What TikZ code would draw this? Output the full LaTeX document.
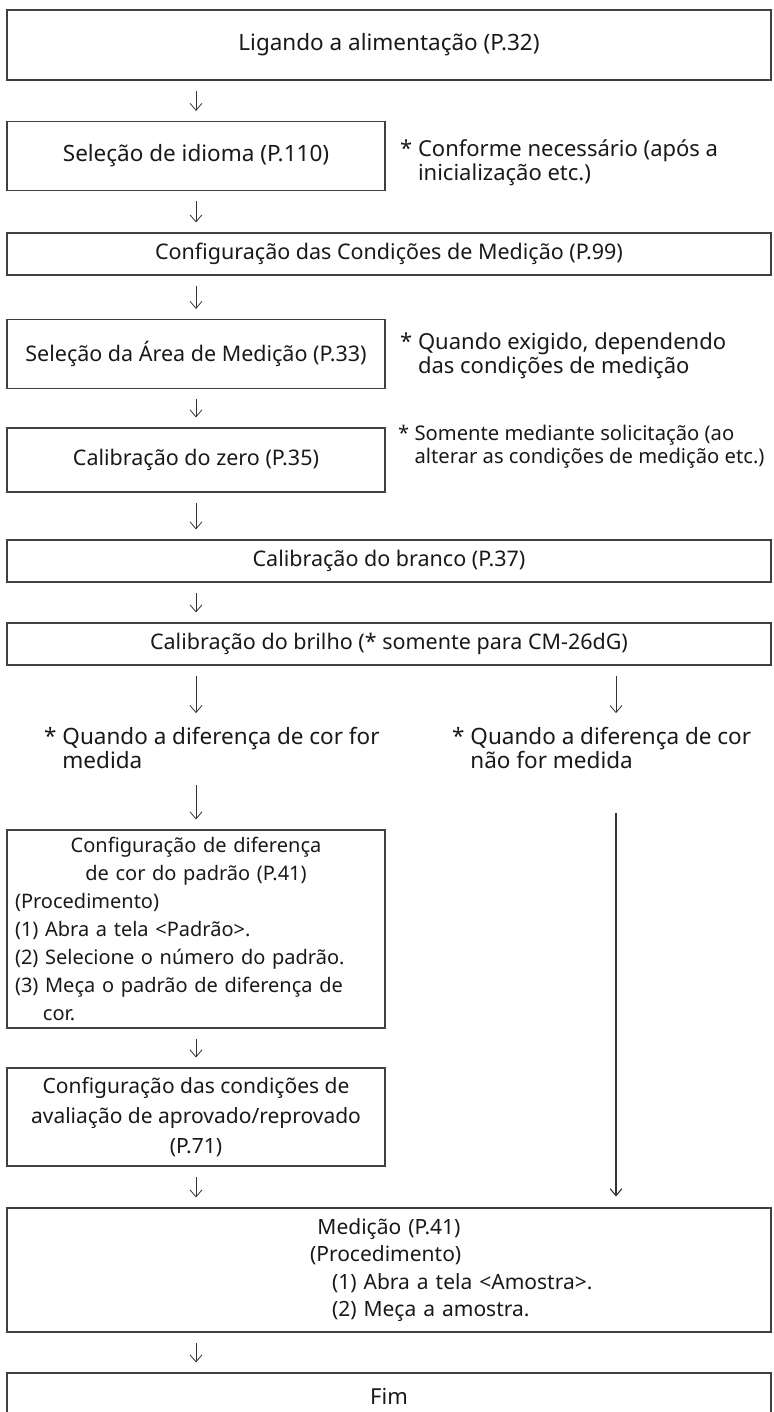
\documentclass[tikz,border=0pt]{standalone}
\usepackage{fontspec}
\setmainfont{Noto Sans}
\usetikzlibrary{arrows.meta,positioning}

\begin{document}
\begin{tikzpicture}[
  x=1pt, y=1pt,
  wide/.style={draw=black!75, line width=1.1pt, minimum width=764pt, inner sep=0pt, text=black!90, font=\fontsize{21.5}{26}\selectfont},
  half/.style={draw=black!75, line width=1.1pt, minimum width=378pt, inner sep=0pt, text=black!90, font=\fontsize{21.5}{26}\selectfont},
  remark/.style={align=left, inner sep=0pt, anchor=west, text=black!90, font=\fontsize{22}{24}\selectfont},
  flow/.style={-{Straight Barb[length=7pt,width=12pt]}, line width=0.8pt, draw=black!80, shorten <=10pt, shorten >=10pt}
]
\useasboundingbox (0,0) rectangle (773,-1412);
\node[wide, minimum height=70pt, font=\fontsize{22.5}{26}\selectfont] (power) at (389,-45) {Ligando a alimentação (P.32)};
\node[half, minimum height=69pt, font=\fontsize{22.5}{26}\selectfont] (lang) at (196,-156) {Seleção de idioma (P.110)};
\node[remark] (langnote) at (400,-163) {* Conforme necessário (após a\\\phantom{* }inicialização etc.)};
\node[wide, minimum height=42pt] (cond) at (389,-254) {Configuração das Condições de Medição (P.99)};
\node[half, minimum height=69pt] (area) at (196,-354) {Seleção da Área de Medição (P.33)};
\node[remark] (areanote) at (400,-356) {* Quando exigido, dependendo\\\phantom{* }das condições de medição};
\node[half, minimum height=64pt] (zero) at (196,-460) {Calibração do zero (P.35)};
\node[remark, font=\fontsize{20.2}{23}\selectfont] (zeronote) at (398,-447) {* Somente mediante solicitação (ao\\\phantom{* }alterar as condições de medição etc.)};
\node[wide, minimum height=42pt] (white) at (389,-561) {Calibração do branco (P.37)};
\node[wide, minimum height=42pt] (gloss) at (389,-644) {Calibração do brilho (* somente para CM-26dG)};
\node[remark, font=\fontsize{22.5}{24}\selectfont] (withdiff) at (44,-748) {* Quando a diferença de cor for\\\phantom{* }medida};
\node[remark, font=\fontsize{22.5}{24}\selectfont] (nodiff) at (452,-748) {* Quando a diferença de cor\\\phantom{* }não for medida};
\coordinate (rtop) at (616,-813);
\node[half, minimum height=198pt, text width=362pt, align=left, font=\fontsize{20}{28}\selectfont] (target) at (196,-929) {{\centering Configuração de diferença\\de cor do padrão (P.41)\par}(Procedimento)\\(1) Abra a tela <Padrão>.\\(2) Selecione o número do padrão.\\(3) Meça o padrão de diferença de\\\hspace*{28pt}cor.};
\node[half, minimum height=98pt, align=center, font=\fontsize{21}{30}\selectfont] (judge) at (196,-1117) {Configuração das condições de\\avaliação de aprovado/reprovado\\(P.71)};
\node[wide, minimum height=124pt, text width=750pt, align=left, font=\fontsize{21}{27.5}\selectfont] (meas) at (389,-1270) {{\centering Medição (P.41)\par}\leftskip=296pt (Procedimento)\par\leftskip=318pt (1) Abra a tela <Amostra>.\par(2) Meça a amostra.\par};
\node[wide, minimum height=46pt, font=\fontsize{22}{26}\selectfont] (done) at (389,-1396) {Fim};
\draw[flow] (power.south -| lang) -- (lang.north);
\draw[flow] (lang.south) -- (cond.north -| lang.south);
\draw[flow] (cond.south -| area) -- (area.north);
\draw[flow] (area.south) -- (zero.north);
\draw[flow] (zero.south) -- (white.north -| zero.south);
\draw[flow] (white.south -| zero) -- (gloss.north -| zero);
\draw[flow, shorten >=14pt] (gloss.south -| zero) -- (withdiff.north -| zero);
\draw[flow, shorten >=14pt] (gloss.south -| rtop) -- (nodiff.north -| rtop);
\draw[flow, shorten <=16pt] (withdiff.south -| target) -- (target.north);
\draw[flow] (target.south) -- (judge.north);
\draw[flow] (judge.south) -- (meas.north -| judge.south);
\draw[flow, line width=1.1pt, shorten <=0pt, shorten >=11pt] (rtop) -- (meas.north -| rtop);
\draw[flow] (meas.south -| judge) -- (done.north -| judge);
\end{tikzpicture}
\end{document}
